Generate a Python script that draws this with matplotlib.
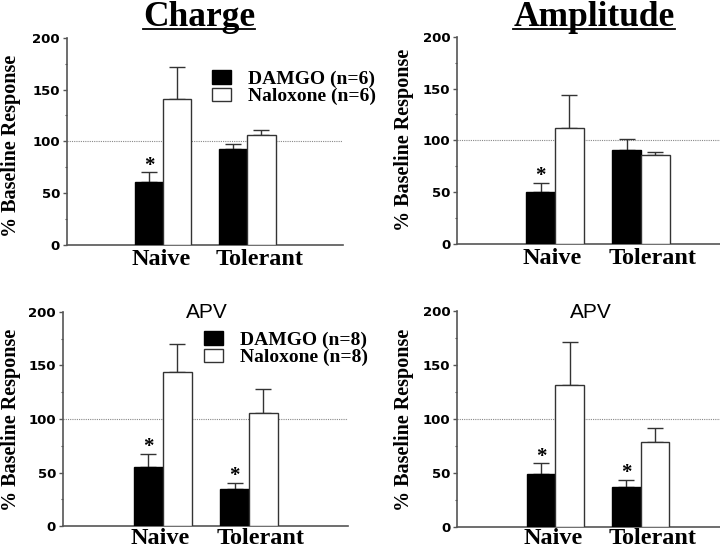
import numpy as np
import matplotlib
matplotlib.use("Agg")
import matplotlib.pyplot as plt
from matplotlib.patches import Patch
from matplotlib.lines import Line2D
from matplotlib.ticker import MultipleLocator

groups = ["Naive", "Tolerant"]

# Charge (top left)
charge_damgo = [61, 93]
charge_damgo_err = [9, 4.5]
charge_nalox = [141, 106]
charge_nalox_err = [30.5, 5]

# Amplitude (top right)
amp_damgo = [50, 91]
amp_damgo_err = [9, 10.5]
amp_nalox = [112, 85.5]
amp_nalox_err = [32, 3.5]

# APV charge (bottom left)
apv_charge_damgo = [55.5, 35]
apv_charge_damgo_err = [12, 5.5]
apv_charge_nalox = [143.5, 106]
apv_charge_nalox_err = [26, 22]

# APV amplitude (bottom right)
apv_amp_damgo = [49, 37]
apv_amp_damgo_err = [10, 7]
apv_amp_nalox = [132, 79]
apv_amp_nalox_err = [39.5, 13]

# which DAMGO bars get an asterisk
sig_top = [True, False]
sig_bottom = [True, True]

SERIF = ["Liberation Serif", "DejaVu Serif"]
SANS = ["Liberation Sans", "DejaVu Sans"]
AXCOL = "#555555"
W = 0.335

fig = plt.figure(figsize=(7.2, 5.48), dpi=100)


def panel(rect, xlim, damgo, damgo_err, nalox, nalox_err, sig, label_drop):
    ax = fig.add_axes(rect)
    x = np.arange(len(groups))
    ax.bar(x - W / 2, damgo, W, color="black", edgecolor="black", lw=1, zorder=3)
    ax.bar(x + W / 2, nalox, W, color="white", edgecolor="#333333", lw=1, zorder=3)
    zeros = np.zeros(len(groups))
    ax.errorbar(x - W / 2, damgo, yerr=[zeros, damgo_err], fmt="none", ecolor="#333333",
                elinewidth=1, capsize=5.5, capthick=1, zorder=2)
    ax.errorbar(x + W / 2, nalox, yerr=[zeros, nalox_err], fmt="none", ecolor="#333333",
                elinewidth=1, capsize=5.5, capthick=1, zorder=2)
    for i, s in enumerate(sig):
        if s:
            ax.text(x[i] - W / 2, damgo[i] + damgo_err[i] - 3, "*", ha="center", va="bottom",
                    family=SERIF, fontweight="bold", fontsize=15)
    ax.axhline(100, color="#888888", lw=0.8, ls=(0, (1, 1)), zorder=1)
    ax.set_xlim(*xlim)
    ax.set_ylim(0, 200)
    for side in ["top", "right"]:
        ax.spines[side].set_visible(False)
    for side in ["left", "bottom"]:
        ax.spines[side].set_color(AXCOL)
        ax.spines[side].set_linewidth(1.2)
    ax.set_xticks([])
    ax.yaxis.set_major_locator(MultipleLocator(50))
    ax.yaxis.set_minor_locator(MultipleLocator(25))
    ax.tick_params(axis="y", which="major", length=3, width=1, color=AXCOL, pad=2,
                   labelsize=9.5)
    ax.tick_params(axis="y", which="minor", length=1.5, width=0.8, color=AXCOL)
    for lab in ax.get_yticklabels():
        lab.set_fontweight("bold")
        lab.set_family("DejaVu Sans")
    for i, g in enumerate(groups):
        ax.annotate(g, xy=(x[i] - W - 0.04, 0), xycoords=("data", "axes fraction"),
                    xytext=(0, -label_drop), textcoords="offset pixels", ha="left",
                    va="baseline", family=SERIF, fontweight="bold", fontsize=17.5,
                    annotation_clip=False)
    return ax


ax1 = panel([0.093, 0.553, 0.384, 0.378], (-1.14, 2.14),
            charge_damgo, charge_damgo_err, charge_nalox, charge_nalox_err, sig_top, 20)
ax2 = panel([0.635, 0.555, 0.365, 0.378], (-1.14, 1.92),
            amp_damgo, amp_damgo_err, amp_nalox, amp_nalox_err, sig_top, 20)
ax3 = panel([0.0875, 0.040, 0.396, 0.391], (-1.16, 2.15),
            apv_charge_damgo, apv_charge_damgo_err, apv_charge_nalox, apv_charge_nalox_err,
            sig_bottom, 18)
ax4 = panel([0.635, 0.038, 0.365, 0.394], (-1.15, 1.93),
            apv_amp_damgo, apv_amp_damgo_err, apv_amp_nalox, apv_amp_nalox_err, sig_bottom, 17)

# y labels
for xpix, ypix in [(11, 146), (404, 140), (11, 420), (404, 420)]:
    fig.text(xpix / 720, 1 - ypix / 548, "% Baseline Response", rotation=90,
             ha="center", va="center", family=SERIF, fontweight="bold", fontsize=14.5)

# legends
for ax, n, anchor in [(ax1, 6, (212, 70)), (ax3, 8, (204, 331))]:
    handles = [Patch(facecolor="black", edgecolor="black"),
               Patch(facecolor="white", edgecolor="#333333")]
    leg = ax.legend(handles, [f"DAMGO (n={n})", f"Naloxone (n={n})"],
                    loc="upper left", bbox_to_anchor=(anchor[0] / 720, 1 - anchor[1] / 548),
                    bbox_transform=fig.transFigure, frameon=False,
                    prop={"family": SERIF, "weight": "bold", "size": 14},
                    handlelength=1.0, handleheight=0.7, handletextpad=0.85,
                    labelspacing=0.0, borderaxespad=0, borderpad=0)
    leg.set_clip_on(False)

# underlined titles
titles = []
for xpix, txt in [(199, "Charge"), (594, "Amplitude")]:
    t = fig.text(xpix / 720, 1 - 26 / 548, txt, ha="center", va="baseline",
                 family=SERIF, fontweight="bold", fontsize=25.5)
    titles.append(t)
fig.canvas.draw()
r = fig.canvas.get_renderer()
for t in titles:
    bb = t.get_window_extent(r).transformed(fig.transFigure.inverted())
    yline = 1 - 29 / 548
    fig.add_artist(Line2D([bb.x0, bb.x1], [yline, yline], color="black", lw=1.3,
                          transform=fig.transFigure))

# APV subtitles
for xpix in [207, 591]:
    fig.text(xpix / 720, 1 - 312 / 548, "APV", ha="center", va="center",
             family=SANS, fontsize=15)

fig.savefig("out.png", dpi=100)
